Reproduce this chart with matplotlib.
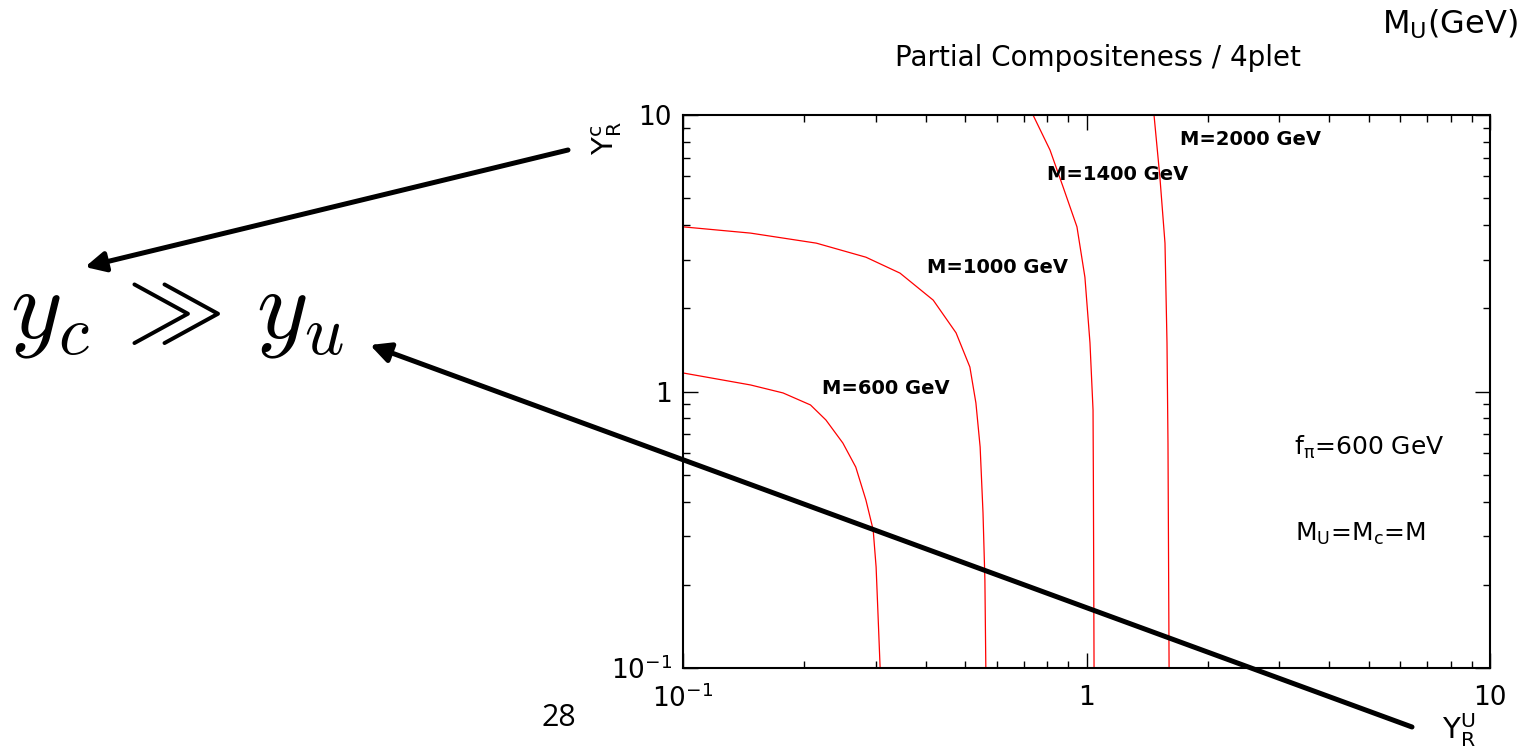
import numpy as np
import matplotlib
matplotlib.use('Agg')
import matplotlib.pyplot as plt
from matplotlib.ticker import FixedLocator, LogLocator, NullFormatter

plt.rcParams['font.family'] = ['DejaVu Sans']

# curves: Y_R^u (x) and Y_R^c (y)
m600_x = [0.100, 0.147, 0.177, 0.207, 0.226, 0.249, 0.268, 0.284, 0.296, 0.301, 0.304, 0.308]
m600_y = [1.167, 1.056, 0.988, 0.894, 0.789, 0.651, 0.533, 0.405, 0.316, 0.232, 0.162, 0.100]

m1000_x = [0.100, 0.147, 0.214, 0.284, 0.345, 0.417, 0.475, 0.514, 0.532, 0.545, 0.554, 0.560, 0.563]
m1000_y = [3.94, 3.74, 3.44, 3.06, 2.68, 2.14, 1.63, 1.226, 0.909, 0.630, 0.364, 0.208, 0.100]

m1400_x = [0.737, 0.812, 0.875, 0.947, 0.991, 1.020, 1.038, 1.040, 1.044]
m1400_y = [10.0, 7.47, 5.49, 3.94, 2.59, 1.50, 0.857, 0.491, 0.100]

m2000_x = [1.47, 1.52, 1.565, 1.583, 1.592, 1.602]
m2000_y = [10.0, 5.97, 3.44, 1.50, 0.651, 0.100]

curve_labels = ['M=600 GeV', 'M=1000 GeV', 'M=1400 GeV', 'M=2000 GeV']

tick_vals = [0.1, 1, 10]
tick_text = [r'$\mathregular{10^{-1}}$', '1', '10']

fig = plt.figure(figsize=(15.28, 7.49), dpi=100)
ax = fig.add_axes([683/1528, 1-668/749, (1490-683)/1528, (668-115)/749])

for xs, ys in [(m600_x, m600_y), (m1000_x, m1000_y), (m1400_x, m1400_y), (m2000_x, m2000_y)]:
    ax.plot(xs, ys, color='red', lw=0.9)

ax.set_xscale('log')
ax.set_yscale('log')
ax.set_xlim(0.1, 10)
ax.set_ylim(0.1, 10)

ax.xaxis.set_major_locator(FixedLocator(tick_vals))
ax.yaxis.set_major_locator(FixedLocator(tick_vals))
ax.set_xticklabels(tick_text)
ax.set_yticklabels(tick_text)
ax.xaxis.set_minor_locator(LogLocator(base=10, subs=np.arange(2, 10)))
ax.yaxis.set_minor_locator(LogLocator(base=10, subs=np.arange(2, 10)))
ax.xaxis.set_minor_formatter(NullFormatter())
ax.yaxis.set_minor_formatter(NullFormatter())
ax.tick_params(which='both', direction='in', top=True, right=True, labelsize=19, width=1)
ax.tick_params(which='major', length=11)
ax.tick_params(which='minor', length=5)
ax.tick_params(axis='x', pad=12)
ax.tick_params(axis='y', pad=8)
for sp in ax.spines.values():
    sp.set_linewidth(1.5)

# curve labels
ax.text(0.172, 0.495, curve_labels[0], transform=ax.transAxes, fontsize=14, fontweight='bold', va='baseline')
ax.text(0.302, 0.715, curve_labels[1], transform=ax.transAxes, fontsize=14, fontweight='bold', va='baseline')
ax.text(0.451, 0.883, curve_labels[2], transform=ax.transAxes, fontsize=14, fontweight='bold', va='baseline')
ax.text(0.616, 0.945, curve_labels[3], transform=ax.transAxes, fontsize=14, fontweight='bold', va='baseline')
ax.text(0.757, 0.385, r'f$_{\mathregular{\pi}}$=600 GeV', transform=ax.transAxes, fontsize=18, va='baseline')
ax.text(0.758, 0.23, r'M$_{\mathregular{U}}$=M$_{\mathregular{c}}$=M', transform=ax.transAxes, fontsize=18,
        va='baseline')

# axis titles
ax.text(0.962, -0.112, r'$\mathregular{Y_{R}^{U}}$', transform=ax.transAxes, fontsize=21,
        ha='center', va='center')
ax.text(-0.095, 0.958, r'$\mathregular{Y_{R}^{c}}$', transform=ax.transAxes, fontsize=21,
        ha='center', va='center', rotation=90)

fig.text(0.7186, 0.9226, 'Partial Compositeness / 4plet', fontsize=20, ha='center', va='center')
fig.text(0.949, 0.967, r'M$_{\mathregular{U}}$(GeV)', fontsize=23, ha='center', va='center')

# annotation on the slide: y_c >> y_u
fig.text(10/1528, 1-338/749, r'$y_c\,\gg\,y_u$', fontsize=71,
         ha='left', va='baseline', math_fontfamily='cm')
fig.text(559/1528, 1-718/749, '28', fontsize=22, ha='center', va='center', family='Open Sans')

arrow = dict(arrowstyle='-|>', lw=3.6, color='black', mutation_scale=30, shrinkA=0, shrinkB=0)
fig.add_artist(matplotlib.patches.FancyArrowPatch((568, 749-150), (85, 749-267), transform=None, **arrow))
fig.add_artist(matplotlib.patches.FancyArrowPatch((1412, 749-727), (370, 749-345), transform=None, **arrow))

fig.savefig('out.png', dpi=100)
